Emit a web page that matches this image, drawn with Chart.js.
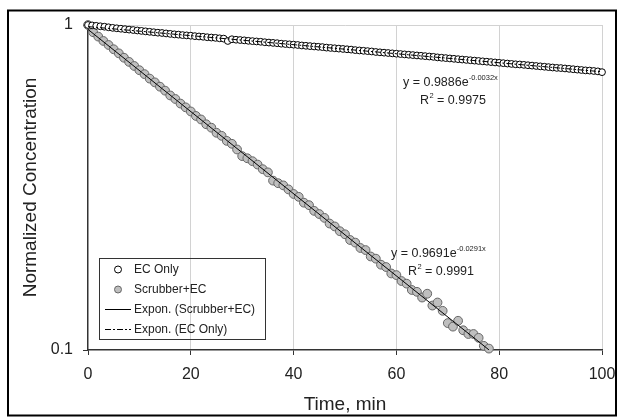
<!DOCTYPE html>
<html>
<head>
<meta charset="utf-8">
<script src="https://cdn.jsdelivr.net/npm/chart.js@4.4.0/dist/chart.umd.min.js"></script>
<style>
  html, body { margin: 0; padding: 0; background: #fff; }
  #wrap { width: 618px; height: 417px; position: relative; }
</style>
</head>
<body>
<div id="wrap"><canvas id="chart" width="618" height="417"></canvas></div>
<script>
// time in minutes, EC only run
const timeEC = [0, 0.8, 1.6, 2.4, 3.2, 4, 4.8, 5.6, 6.4, 7.2, 8, 8.8, 9.6, 10.4, 11.2, 12, 12.8, 13.6, 14.4, 15.2,
    16, 16.8, 17.6, 18.4, 19.2, 20, 20.8, 21.6, 22.4, 23.2, 24, 24.8, 25.6, 26.4, 27.2, 28, 28.8, 29.6, 30.4, 31.2,
    32, 32.8, 33.6, 34.4, 35.2, 36, 36.8, 37.6, 38.4, 39.2, 40, 40.8, 41.6, 42.4, 43.2, 44, 44.8, 45.6, 46.4, 47.2,
    48, 48.8, 49.6, 50.4, 51.2, 52, 52.8, 53.6, 54.4, 55.2, 56, 56.8, 57.6, 58.4, 59.2, 60, 60.8, 61.6, 62.4, 63.2,
    64, 64.8, 65.6, 66.4, 67.2, 68, 68.8, 69.6, 70.4, 71.2, 72, 72.8, 73.6, 74.4, 75.2, 76, 76.8, 77.6, 78.4, 79.2,
    80, 80.8, 81.6, 82.4, 83.2, 84, 84.8, 85.6, 86.4, 87.2, 88, 88.8, 89.6, 90.4, 91.2, 92, 92.8, 93.6, 94.4, 95.2,
    96, 96.8, 97.6, 98.4, 99.2, 100];
const ecOnly = [1.000, 0.997, 0.994, 0.991, 0.988, 0.984, 0.980, 0.977, 0.974, 0.971, 0.968, 0.965, 0.962, 0.959, 0.956, 0.953, 0.950, 0.947, 0.945, 0.942,
    0.939, 0.936, 0.934, 0.931, 0.929, 0.927, 0.924, 0.922, 0.920, 0.917, 0.915, 0.913, 0.910, 0.908, 0.893, 0.904, 0.901, 0.899, 0.897, 0.894,
    0.892, 0.890, 0.888, 0.885, 0.883, 0.881, 0.879, 0.876, 0.874, 0.872, 0.870, 0.868, 0.865, 0.863, 0.861, 0.859, 0.857, 0.855, 0.852, 0.850,
    0.848, 0.846, 0.844, 0.842, 0.840, 0.837, 0.835, 0.833, 0.831, 0.829, 0.826, 0.824, 0.822, 0.820, 0.818, 0.816, 0.814, 0.812, 0.810, 0.808,
    0.806, 0.804, 0.802, 0.800, 0.798, 0.795, 0.793, 0.791, 0.789, 0.787, 0.785, 0.783, 0.781, 0.779, 0.777, 0.775, 0.773, 0.771, 0.769, 0.767,
    0.765, 0.763, 0.761, 0.759, 0.757, 0.756, 0.754, 0.752, 0.750, 0.748, 0.746, 0.744, 0.742, 0.740, 0.738, 0.737, 0.735, 0.733, 0.731, 0.729,
    0.727, 0.725, 0.724, 0.722, 0.720, 0.716];

// time in minutes, scrubber + EC run
const timeScrub = [0, 1, 2, 3, 4, 5, 6, 7, 8, 9, 10, 11, 12, 13, 14, 15, 16, 17, 18, 19, 20,
    21, 22, 23, 24, 25, 26, 27, 28, 29, 30, 31, 32, 33, 34, 35, 36, 37, 38, 39, 40,
    41, 42, 43, 44, 45, 46, 47, 48, 49, 50, 51, 52, 53, 54, 55, 56, 57, 58, 59, 60,
    61, 62, 63, 64, 65, 66, 67, 68, 69, 70, 71, 72, 73, 74, 75, 76, 77, 78];
const scrubberEC = [1.000, 0.950, 0.921, 0.893, 0.868, 0.842, 0.818, 0.793, 0.770, 0.748, 0.726,
    0.706, 0.684, 0.666, 0.646, 0.628, 0.607, 0.592, 0.573, 0.558, 0.542,
    0.525, 0.512, 0.495, 0.483, 0.466, 0.456, 0.440, 0.431, 0.414, 0.395,
    0.389, 0.381, 0.372, 0.360, 0.352, 0.332, 0.326, 0.321, 0.312, 0.302,
    0.296, 0.284, 0.279, 0.268, 0.262, 0.255, 0.245, 0.240, 0.232, 0.227,
    0.218, 0.214, 0.206, 0.203, 0.194, 0.191, 0.183, 0.180, 0.172, 0.170,
    0.163, 0.160, 0.153, 0.151, 0.145, 0.149, 0.137, 0.140, 0.132, 0.121,
    0.118, 0.123, 0.115, 0.112, 0.112, 0.109, 0.103, 0.101];

// exponential trendline end points
const ecFitX = [0, 100];
const ecFitY = [0.9886, 0.7179];
const scrubFitX = [0, 78];
const scrubFitY = [0.9691, 0.1001];

const xTicks = [0, 20, 40, 60, 80, 100];
const yTicks = [0.1, 1];
const yTickLabels = ['0.1', '1'];

const FONT = "'Liberation Sans', Arial, sans-serif";
Chart.defaults.font.family = FONT;
Chart.defaults.color = '#222';

function toPoints(xs, ys) {
    return ys.map((v, i) => ({ x: xs[i], y: v }));
}

// frame, legend box and trendline equations
const decor = {
    id: 'decor',
    afterDraw(chart) {
        const ctx = chart.ctx;
        ctx.save();
        ctx.strokeStyle = '#000';
        ctx.lineWidth = 2;
        ctx.strokeRect(8, 10.5, 608, 405);

        // legend
        ctx.lineWidth = 1;
        ctx.strokeStyle = '#333';
        ctx.strokeRect(99.5, 258.5, 166, 81);
        const ds = chart.data.datasets;
        ctx.font = '12px ' + FONT;
        ctx.textBaseline = 'middle';
        ctx.fillStyle = '#222';
        ds.forEach((d, row) => {
            const y = 269.5 + row * 20;
            if (d.showLine) {
                ctx.beginPath();
                ctx.strokeStyle = '#000';
                ctx.setLineDash(d.borderDash || []);
                ctx.moveTo(105, y);
                ctx.lineTo(131, y);
                ctx.stroke();
                ctx.setLineDash([]);
            } else {
                ctx.beginPath();
                ctx.arc(118, y, 3.5, 0, Math.PI * 2);
                ctx.fillStyle = d.backgroundColor;
                ctx.fill();
                ctx.strokeStyle = d.borderColor;
                ctx.stroke();
            }
            ctx.fillStyle = '#222';
            ctx.fillText(d.label, 134, y);
        });

        // equations
        ctx.textBaseline = 'alphabetic';
        const eq = (x, y, a, b) => {
            ctx.font = '12.5px ' + FONT;
            const s1 = 'y = ' + a + 'e';
            ctx.fillText(s1, x, y);
            const w1 = ctx.measureText(s1).width;
            ctx.font = '7.5px ' + FONT;
            ctx.fillText(b, x + w1, y - 6);
        };
        const r2 = (x, y, val) => {
            ctx.font = '12.5px ' + FONT;
            ctx.fillText('R', x, y);
            const w = ctx.measureText('R').width;
            ctx.font = '7.5px ' + FONT;
            ctx.fillText('2', x + w + 0.5, y - 6);
            ctx.font = '12.5px ' + FONT;
            ctx.fillText(' = ' + val, x + w + 4.5, y);
        };
        eq(403, 86, '0.9886', '-0.0032x');
        r2(420, 104, '0.9975');
        eq(391, 257, '0.9691', '-0.0291x');
        r2(408, 275, '0.9991');
        ctx.restore();
    }
};

new Chart(document.getElementById('chart'), {
    type: 'scatter',
    data: {
        datasets: [
            {
                label: 'EC Only',
                data: toPoints(timeEC, ecOnly),
                pointRadius: 3.4,
                pointBackgroundColor: '#fff',
                backgroundColor: '#fff',
                borderColor: '#000',
                pointBorderColor: '#000',
                pointBorderWidth: 1,
                clip: false,
                order: 2
            },
            {
                label: 'Scrubber+EC',
                data: toPoints(timeScrub, scrubberEC),
                pointRadius: 4.4,
                pointBackgroundColor: '#bfbfbf',
                backgroundColor: '#bfbfbf',
                borderColor: '#666',
                pointBorderColor: '#666',
                pointBorderWidth: 1,
                clip: false,
                order: 3
            },
            {
                label: 'Expon. (Scrubber+EC)',
                data: toPoints(scrubFitX, scrubFitY),
                showLine: true,
                pointRadius: 0,
                borderColor: '#000',
                borderWidth: 1,
                order: 0
            },
            {
                label: 'Expon. (EC Only)',
                data: toPoints(ecFitX, ecFitY),
                showLine: true,
                pointRadius: 0,
                borderColor: '#000',
                borderWidth: 1,
                borderDash: [6, 2, 2, 2],
                order: 1
            }
        ]
    },
    options: {
        responsive: false,
        animation: false,
        devicePixelRatio: 1,
        layout: { padding: { top: 25, right: 16, left: 0, bottom: 0 } },
        plugins: {
            legend: { display: false },
            tooltip: { enabled: false }
        },
        scales: {
            x: {
                type: 'linear',
                min: 0,
                max: 100,
                afterBuildTicks: s => { s.ticks = xTicks.map(v => ({ value: v })); },
                afterFit: s => { s.height = 67; s.paddingLeft = 0; s.paddingRight = 0; },
                grid: {
                    color: c => (c.tick && c.tick.value === 0) ? 'rgba(0,0,0,0)' : '#d2d2d2',
                    tickColor: '#333',
                    tickLength: 5
                },
                border: { color: '#333', width: 1.5 },
                ticks: { font: { size: 16 }, padding: 10, maxRotation: 0 },
                title: { display: true, text: 'Time, min', font: { size: 19 }, padding: { top: 0, bottom: 1 } }
            },
            y: {
                type: 'logarithmic',
                min: 0.1,
                max: 1,
                afterBuildTicks: s => { s.ticks = yTicks.map(v => ({ value: v })); },
                afterFit: s => { s.width = 88; s.paddingTop = 0; s.paddingBottom = 0; },
                grid: {
                    color: c => (c.tick && c.tick.value === 0.1) ? 'rgba(0,0,0,0)' : '#d2d2d2',
                    tickColor: '#333',
                    tickLength: 5
                },
                border: { color: '#333', width: 1.5 },
                ticks: { font: { size: 16 }, padding: 10, callback: (v, i) => yTickLabels[i] },
                title: { display: true, text: 'Normalized Concentration', font: { size: 19 }, padding: { top: 19, bottom: 0 } }
            }
        }
    },
    plugins: [decor]
});
</script>
</body>
</html>
